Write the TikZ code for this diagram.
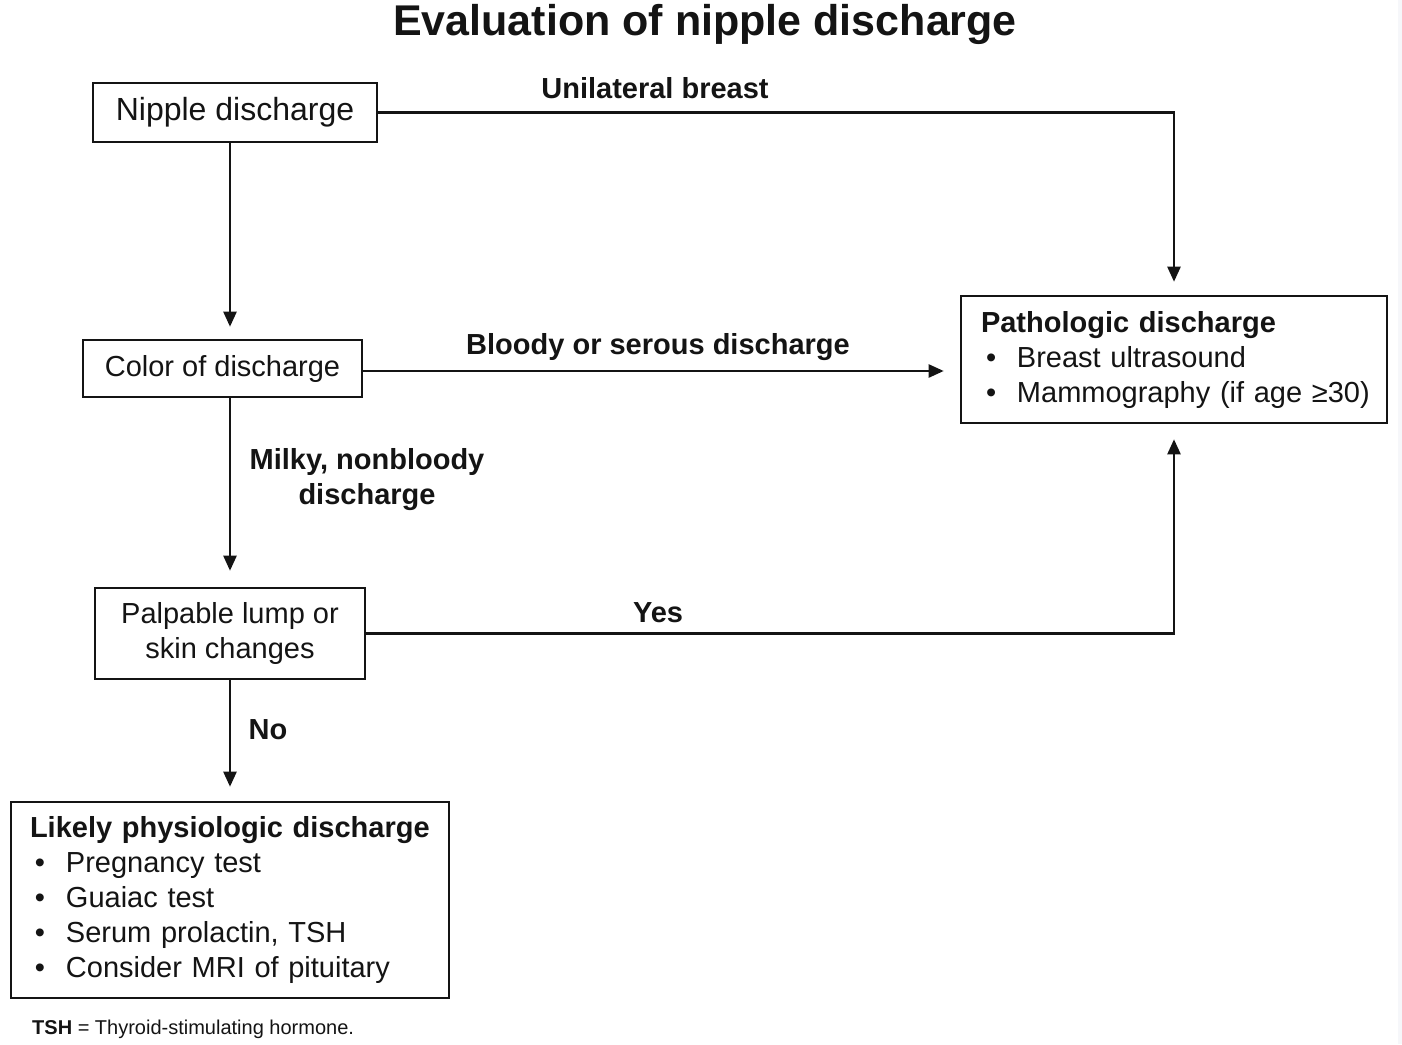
\documentclass[tikz,border=0pt]{standalone}
\usepackage{fontspec}
\setmainfont{Liberation Sans}
\usetikzlibrary{arrows.meta}
\definecolor{edgestrip}{RGB}{246,247,250}
\definecolor{ink}{RGB}{20,20,20}
\tikzset{
  boxnode/.style={draw=ink, line width=2.6pt, rectangle, inner sep=0pt, text=ink,
    font=\fontsize{29}{35}\selectfont, align=center},
  listbox/.style={boxnode, align=left},
  lbl/.style={text=ink, font=\bfseries\fontsize{29}{35}\selectfont, align=center, inner sep=0pt},
  arr/.style={draw=ink, line width=2.4pt, -{Triangle[length=15pt,width=13pt]}},
  plain/.style={draw=ink, line width=2.4pt}
}
\newcommand{\bulitem}[1]{\mbox{\hspace*{5pt}\makebox[31pt][l]{•}#1}}
\begin{document}
\begin{tikzpicture}[x=1pt,y=-1pt]
\useasboundingbox (0,0) rectangle (1402,1044);
\fill[white] (0,0) rectangle (1402,1044);
\fill[edgestrip] (1398,0) rectangle (1402,1044);

\node[text=ink, font=\bfseries\fontsize{43}{48}\selectfont, inner sep=0pt] (title) at (705,24) {Evaluation of nipple discharge};

\coordinate (colx) at (230,0);

\node[boxnode, minimum width=284pt, minimum height=59pt, font=\fontsize{32}{38}\selectfont] (nip) at (235,112.5) {Nipple discharge};
\node[boxnode, minimum width=279pt, minimum height=57pt] (col) at (222.5,368.5) {Color of discharge};
\node[boxnode, minimum width=270pt, minimum height=91pt] (palp) at (230,633.5) {Palpable lump or\\skin changes};
\node[listbox, minimum width=426pt, minimum height=127pt, text width=386pt, inner xsep=20pt] (path) at (1174,359.5)
  {\textbf{Pathologic discharge}\\\bulitem{Breast ultrasound}\\\bulitem{Mammography (if age ≥30)}};
\node[listbox, minimum width=438pt, minimum height=196pt, text width=400pt, inner xsep=19pt] (phys) at (230,900)
  {\textbf{Likely physiologic discharge}\\\bulitem{Pregnancy test}\\\bulitem{Guaiac test}\\\bulitem{Serum prolactin, TSH}\\\bulitem{Consider MRI of pituitary}};

% connectors
\draw[arr, shorten >=12pt] (nip.south -| colx) -- (col.north -| colx);
\draw[arr, shorten >=13pt] (nip.east) -| (path.north);
\draw[arr, shorten >=16pt] ([yshift=-2.5pt]col.east) -- ([yshift=-2.5pt]col.east -| path.west);
\draw[arr, shorten >=16pt] (col.south -| colx) -- (palp.north -| colx);
\draw[arr, shorten >=15pt] (palp.east) -| (path.south);
\draw[arr, shorten >=14pt] (palp.south -| colx) -- (phys.north -| colx);

% labels
\node[lbl] (l1) at (655,88) {Unilateral breast};
\node[lbl] (l2) at (658,347) {Bloody or serous discharge};
\node[lbl] (l3) at (367,480) {Milky, nonbloody\\discharge};
\node[lbl] (l4) at (658,613) {Yes};
\node[lbl] (l5) at (268,730) {No};

\node[anchor=west, text=ink, inner sep=0pt, font=\fontsize{20}{24}\selectfont] (foot) at (32,1029) {\textbf{TSH} = Thyroid-stimulating hormone.};
\end{tikzpicture}
\end{document}
